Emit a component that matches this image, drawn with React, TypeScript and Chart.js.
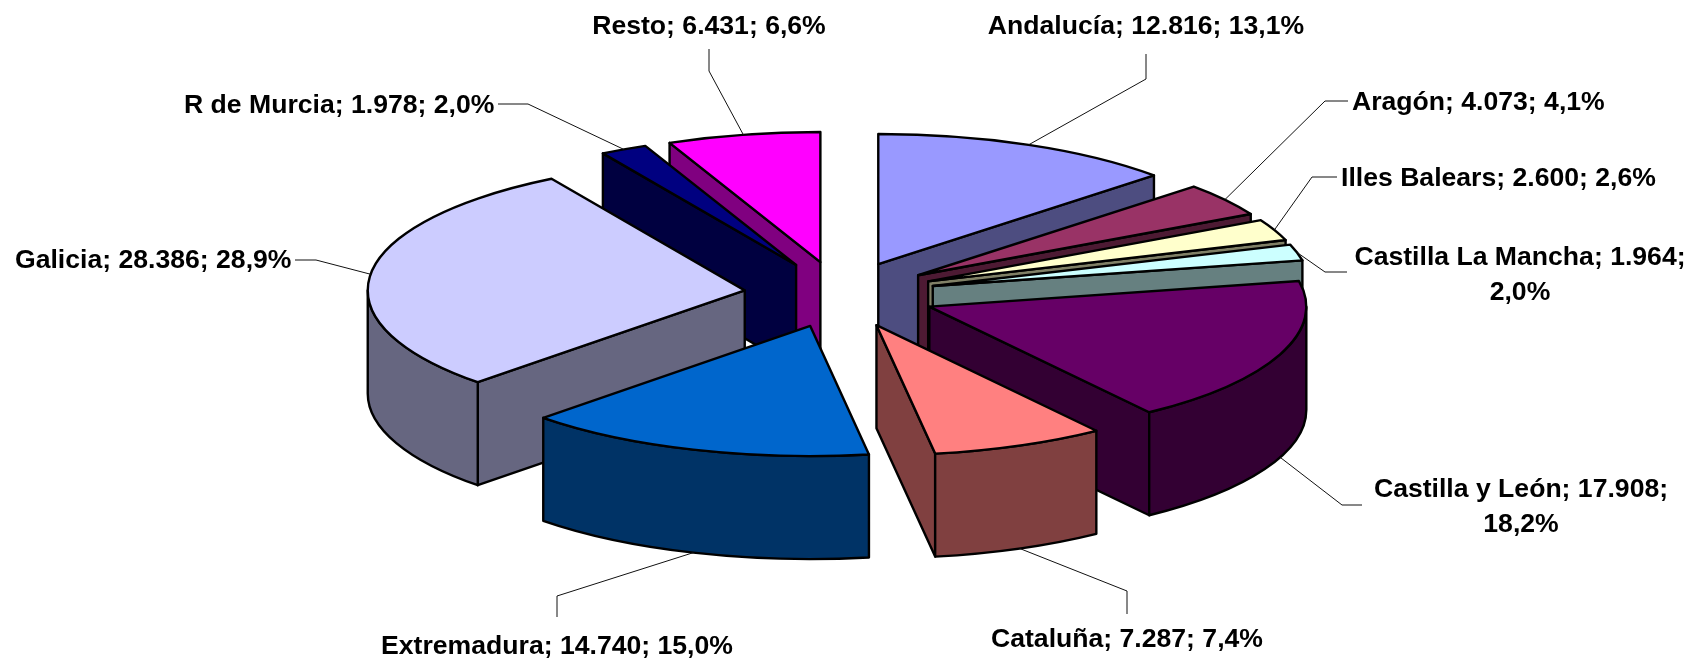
import React, { useEffect, useRef } from 'react';
import { Chart, registerables } from 'chart.js';

Chart.register(...registerables);

const W = 1692;
const H = 658;

// ---- data ----
const regions = [
  'Andalucía',
  'Aragón',
  'Illes Balears',
  'Castilla La Mancha',
  'Castilla y León',
  'Cataluña',
  'Extremadura',
  'Galicia',
  'R de Murcia',
  'Resto',
];
const values = [12816, 4073, 2600, 1964, 17908, 7287, 14740, 28386, 1978, 6431];
const fillColors = [
  '#9999FF',
  '#993366',
  '#FFFFCC',
  '#CCFFFF',
  '#660066',
  '#FF8080',
  '#0066CC',
  '#CCCCFF',
  '#000080',
  '#FF00FF',
];

// ---- label layout (text anchor, alignment, leader elbow) ----
type Lay = { x: number; y: number; align: CanvasTextAlign; wrap: boolean; elbow: number[][] };
const labelLayout: Lay[] = [
  { x: 1146, y: 34, align: 'center', wrap: false, elbow: [[1146, 54], [1146, 79]] },
  { x: 1352, y: 110, align: 'left', wrap: false, elbow: [[1348, 101], [1325, 101]] },
  { x: 1341, y: 186, align: 'left', wrap: false, elbow: [[1337, 177], [1312, 177]] },
  { x: 1520, y: 265, align: 'center', wrap: true, elbow: [[1347, 272], [1325, 272]] },
  { x: 1521, y: 497, align: 'center', wrap: true, elbow: [[1362, 505], [1342, 505]] },
  { x: 1127, y: 647, align: 'center', wrap: false, elbow: [[1127, 614], [1127, 591]] },
  { x: 557, y: 654, align: 'center', wrap: false, elbow: [[557, 617], [557, 596]] },
  { x: 15, y: 268, align: 'left', wrap: false, elbow: [[295, 260], [316, 260]] },
  { x: 184, y: 113, align: 'left', wrap: false, elbow: [[498, 104], [528, 104]] },
  { x: 709, y: 34, align: 'center', wrap: false, elbow: [[709, 49], [709, 71]] },
];

const TILT = 0.345;
const DEPTH = 103;
const EXPLODE = 96;
const RADIUS = 377;
const FONT = 'bold 26.6px "Liberation Sans", Arial, sans-serif';
const LINE_H = 34.5;

function darken(hex: string): string {
  const n = parseInt(hex.slice(1), 16);
  const r = Math.round(((n >> 16) & 255) * 0.5);
  const g = Math.round(((n >> 8) & 255) * 0.5);
  const b = Math.round((n & 255) * 0.5);
  return `rgb(${r},${g},${b})`;
}

function fmtThousands(v: number): string {
  return String(v).replace(/\B(?=(\d{3})+(?!\d))/g, '.');
}

function geom(chart: any) {
  const meta = chart.getDatasetMeta(0);
  return meta.data.map((arc: any, i: number) => {
    const p = arc.getProps(['x', 'y', 'startAngle', 'endAngle', 'outerRadius'], true);
    const mid = (p.startAngle + p.endAngle) / 2;
    const ax = p.x + EXPLODE * Math.cos(mid);
    const ay = p.y + EXPLODE * TILT * Math.sin(mid);
    return { i, arc, p, mid, ax, ay, rx: p.outerRadius, ry: p.outerRadius * TILT };
  });
}

const pie3d = {
  id: 'pie3d',
  beforeDatasetsDraw(chart: any) {
    const ctx: CanvasRenderingContext2D = chart.ctx;
    const items = geom(chart);
    const order = [...items].sort((a: any, b: any) => Math.sin(a.mid) - Math.sin(b.mid));
    ctx.save();
    ctx.lineJoin = 'round';
    ctx.lineWidth = 2.4;
    ctx.strokeStyle = '#000';
    for (const it of order) {
      const { ax, ay, rx, ry, p, arc, i } = it;
      const a0 = p.startAngle;
      const a1 = p.endAngle;
      const side = darken(fillColors[i]);
      const radial = (a: number) => {
        const px = ax + rx * Math.cos(a);
        const py = ay + ry * Math.sin(a);
        ctx.beginPath();
        ctx.moveTo(ax, ay);
        ctx.lineTo(px, py);
        ctx.lineTo(px, py + DEPTH);
        ctx.lineTo(ax, ay + DEPTH);
        ctx.closePath();
        ctx.fillStyle = side;
        ctx.fill();
        ctx.stroke();
      };
      if (Math.cos(a0) < -1e-6) radial(a0);
      if (Math.cos(a1) > 1e-6) radial(a1);
      for (let k = -1; k <= 1; k++) {
        const lo = Math.max(a0, 2 * Math.PI * k);
        const hi = Math.min(a1, Math.PI + 2 * Math.PI * k);
        if (hi > lo) {
          ctx.beginPath();
          ctx.ellipse(ax, ay, rx, ry, 0, lo, hi, false);
          ctx.lineTo(ax + rx * Math.cos(hi), ay + ry * Math.sin(hi) + DEPTH);
          ctx.ellipse(ax, ay + DEPTH, rx, ry, 0, hi, lo, true);
          ctx.closePath();
          ctx.fillStyle = side;
          ctx.fill();
          ctx.stroke();
        }
      }
      // top face drawn by the library's arc element, squashed and exploded
      ctx.save();
      ctx.translate(ax, ay);
      ctx.scale(1, TILT);
      ctx.translate(-p.x, -p.y);
      arc.draw(ctx);
      ctx.restore();
      ctx.beginPath();
      ctx.moveTo(ax, ay);
      ctx.ellipse(ax, ay, rx, ry, 0, a0, a1, false);
      ctx.closePath();
      ctx.stroke();
    }
    ctx.restore();
    return false;
  },
  afterDraw(chart: any) {
    const ctx: CanvasRenderingContext2D = chart.ctx;
    const items = geom(chart);
    const total = values.reduce((s, v) => s + v, 0);
    ctx.save();
    for (const it of items) {
      const lay = labelLayout[it.i];
      const front = Math.sin(it.mid) > 0.3;
      const tx = it.ax + it.rx * Math.cos(it.mid);
      const ty = it.ay + it.ry * Math.sin(it.mid) + (front ? DEPTH : 0);
      ctx.beginPath();
      ctx.moveTo(lay.elbow[0][0], lay.elbow[0][1]);
      ctx.lineTo(lay.elbow[1][0], lay.elbow[1][1]);
      ctx.lineTo(tx, ty);
      ctx.strokeStyle = '#111';
      ctx.lineWidth = 1;
      ctx.stroke();

      const v = values[it.i];
      const pct = ((v / total) * 100).toFixed(1).replace('.', ',') + '%';
      const name = chart.data.labels[it.i];
      ctx.font = FONT;
      ctx.fillStyle = '#000';
      ctx.textAlign = lay.align;
      ctx.textBaseline = 'alphabetic';
      if (lay.wrap) {
        ctx.fillText(`${name}; ${fmtThousands(v)};`, lay.x, lay.y);
        ctx.fillText(pct, lay.x, lay.y + LINE_H);
      } else {
        ctx.fillText(`${name}; ${fmtThousands(v)}; ${pct}`, lay.x, lay.y);
      }
    }
    ctx.restore();
  },
};

export default function App() {
  const ref = useRef<HTMLCanvasElement | null>(null);
  useEffect(() => {
    if (!ref.current) return;
    const chart = new Chart(ref.current, {
      type: 'pie',
      data: {
        labels: regions,
        datasets: [
          {
            data: values,
            backgroundColor: fillColors,
            borderWidth: 0,
            offset: 0,
            hoverOffset: 0,
            radius: RADIUS,
          } as any,
        ],
      },
      options: {
        responsive: false,
        maintainAspectRatio: false,
        devicePixelRatio: 1,
        animation: false,
        events: [],
        layout: { padding: { left: 0, right: 12, top: 0, bottom: 69 } },
        plugins: {
          legend: { display: false },
          tooltip: { enabled: false },
        },
      },
      plugins: [pie3d as any],
    });
    return () => chart.destroy();
  }, []);
  return (
    <div style={{ position: 'absolute', left: 0, top: 0, width: W, height: H, background: '#fff' }}>
      <canvas ref={ref} width={W} height={H} style={{ display: 'block' }} />
    </div>
  );
}
